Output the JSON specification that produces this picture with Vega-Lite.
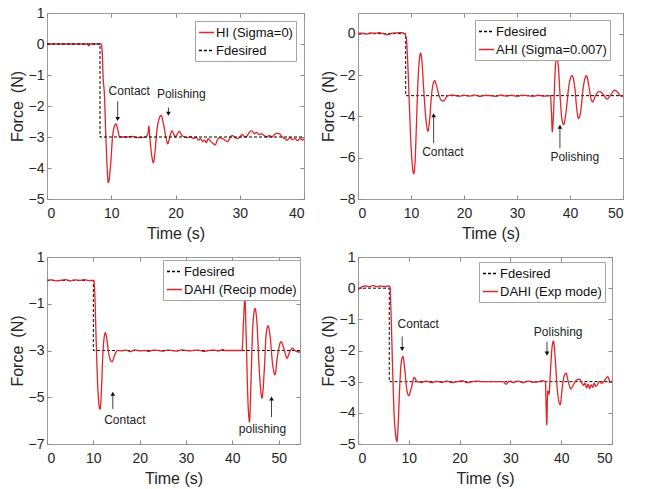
{
  "$schema": "https://vega.github.io/schema/vega-lite/v6.json",
  "background": "white",
  "padding": {"left": 8, "top": 5, "right": 5, "bottom": 5},
  "config": {
    "font": "Liberation Sans",
    "view": {"stroke": "#9b9b9b", "strokeWidth": 1},
    "axis": {"grid": false, "domain": false, "tickSize": -4, "tickColor": "#8a8a8a", "labelFont": "Liberation Sans", "labelFontSize": 14, "labelColor": "#262626", "titleFont": "Liberation Sans", "titleFontSize": 16, "titleFontWeight": "normal", "titleColor": "#262626"},
    "axisX": {"labelPadding": 11, "titlePadding": 5},
    "axisY": {"labelPadding": 7, "titlePadding": 3},
    "legend": {"orient": "none", "title": null, "labelFont": "Liberation Sans", "labelFontSize": 13, "labelColor": "#111111", "symbolType": "stroke", "symbolSize": 225, "symbolStrokeWidth": 1.3, "strokeColor": "#a5a5a5", "fillColor": "white", "padding": 3, "rowPadding": 2, "labelOffset": 1}
  },
  "datasets": {
    "p1": [
      {"t":0,"f":0,"s":"HI (Sigma=0)"},{"t":6.3,"f":0,"s":"HI (Sigma=0)"},{"t":6.5,"f":-0.06,"s":"HI (Sigma=0)"},{"t":6.7,"f":0,"s":"HI (Sigma=0)"},{"t":8.45,"f":0,"s":"HI (Sigma=0)"},{"t":8.6,"f":-0.3,"s":"HI (Sigma=0)"},{"t":8.75,"f":-1.15,"s":"HI (Sigma=0)"},{"t":8.9,"f":-1.5,"s":"HI (Sigma=0)"},{"t":9.2,"f":-3.2,"s":"HI (Sigma=0)"},{"t":9.55,"f":-4.47,"s":"HI (Sigma=0)"},{"t":9.9,"f":-3.9,"s":"HI (Sigma=0)"},{"t":10.2,"f":-3.0,"s":"HI (Sigma=0)"},{"t":10.5,"f":-2.65,"s":"HI (Sigma=0)"},{"t":10.75,"f":-2.58,"s":"HI (Sigma=0)"},{"t":11.0,"f":-2.75,"s":"HI (Sigma=0)"},{"t":11.3,"f":-3.0,"s":"HI (Sigma=0)"},{"t":12.5,"f":-3.0,"s":"HI (Sigma=0)"},{"t":13.2,"f":-2.98,"s":"HI (Sigma=0)"},{"t":14.0,"f":-3.02,"s":"HI (Sigma=0)"},{"t":15.3,"f":-3.0,"s":"HI (Sigma=0)"},{"t":15.7,"f":-2.9,"s":"HI (Sigma=0)"},{"t":15.85,"f":-2.65,"s":"HI (Sigma=0)"},{"t":16.0,"f":-3.0,"s":"HI (Sigma=0)"},{"t":16.3,"f":-3.6,"s":"HI (Sigma=0)"},{"t":16.55,"f":-3.83,"s":"HI (Sigma=0)"},{"t":16.8,"f":-3.5,"s":"HI (Sigma=0)"},{"t":17.1,"f":-2.8,"s":"HI (Sigma=0)"},{"t":17.4,"f":-2.45,"s":"HI (Sigma=0)"},{"t":17.75,"f":-2.3,"s":"HI (Sigma=0)"},{"t":18.1,"f":-2.55,"s":"HI (Sigma=0)"},{"t":18.5,"f":-3.0,"s":"HI (Sigma=0)"},{"t":18.8,"f":-3.22,"s":"HI (Sigma=0)"},{"t":19.1,"f":-3.0,"s":"HI (Sigma=0)"},{"t":19.45,"f":-2.8,"s":"HI (Sigma=0)"},{"t":19.7,"f":-2.9,"s":"HI (Sigma=0)"},{"t":19.95,"f":-3.0,"s":"HI (Sigma=0)"},{"t":20.3,"f":-2.9,"s":"HI (Sigma=0)"},{"t":20.6,"f":-2.82,"s":"HI (Sigma=0)"},{"t":21.0,"f":-2.95,"s":"HI (Sigma=0)"},{"t":21.4,"f":-3.0,"s":"HI (Sigma=0)"},{"t":21.9,"f":-3.02,"s":"HI (Sigma=0)"},{"t":22.3,"f":-2.98,"s":"HI (Sigma=0)"},{"t":22.8,"f":-3.05,"s":"HI (Sigma=0)"},{"t":23.2,"f":-3.0,"s":"HI (Sigma=0)"},{"t":23.6,"f":-3.1,"s":"HI (Sigma=0)"},{"t":23.9,"f":-3.05,"s":"HI (Sigma=0)"},{"t":24.2,"f":-3.15,"s":"HI (Sigma=0)"},{"t":24.5,"f":-3.1,"s":"HI (Sigma=0)"},{"t":24.8,"f":-3.18,"s":"HI (Sigma=0)"},{"t":25.1,"f":-3.05,"s":"HI (Sigma=0)"},{"t":25.4,"f":-3.12,"s":"HI (Sigma=0)"},{"t":25.8,"f":-3.2,"s":"HI (Sigma=0)"},{"t":26.2,"f":-3.25,"s":"HI (Sigma=0)"},{"t":26.5,"f":-3.1,"s":"HI (Sigma=0)"},{"t":26.9,"f":-3.02,"s":"HI (Sigma=0)"},{"t":27.3,"f":-3.05,"s":"HI (Sigma=0)"},{"t":27.7,"f":-3.1,"s":"HI (Sigma=0)"},{"t":28.1,"f":-3.15,"s":"HI (Sigma=0)"},{"t":28.4,"f":-3.05,"s":"HI (Sigma=0)"},{"t":28.8,"f":-2.95,"s":"HI (Sigma=0)"},{"t":29.2,"f":-3.0,"s":"HI (Sigma=0)"},{"t":29.6,"f":-3.05,"s":"HI (Sigma=0)"},{"t":30.0,"f":-3.0,"s":"HI (Sigma=0)"},{"t":30.4,"f":-2.92,"s":"HI (Sigma=0)"},{"t":30.8,"f":-3.0,"s":"HI (Sigma=0)"},{"t":31.2,"f":-2.95,"s":"HI (Sigma=0)"},{"t":31.5,"f":-2.85,"s":"HI (Sigma=0)"},{"t":31.9,"f":-2.8,"s":"HI (Sigma=0)"},{"t":32.3,"f":-2.9,"s":"HI (Sigma=0)"},{"t":32.6,"f":-2.85,"s":"HI (Sigma=0)"},{"t":33.0,"f":-2.92,"s":"HI (Sigma=0)"},{"t":33.4,"f":-2.9,"s":"HI (Sigma=0)"},{"t":33.8,"f":-2.95,"s":"HI (Sigma=0)"},{"t":34.2,"f":-3.0,"s":"HI (Sigma=0)"},{"t":34.6,"f":-2.95,"s":"HI (Sigma=0)"},{"t":35.0,"f":-3.0,"s":"HI (Sigma=0)"},{"t":35.4,"f":-2.92,"s":"HI (Sigma=0)"},{"t":35.8,"f":-2.88,"s":"HI (Sigma=0)"},{"t":36.2,"f":-2.9,"s":"HI (Sigma=0)"},{"t":36.6,"f":-3.0,"s":"HI (Sigma=0)"},{"t":37.0,"f":-3.05,"s":"HI (Sigma=0)"},{"t":37.4,"f":-3.1,"s":"HI (Sigma=0)"},{"t":37.8,"f":-3.02,"s":"HI (Sigma=0)"},{"t":38.2,"f":-3.08,"s":"HI (Sigma=0)"},{"t":38.6,"f":-3.05,"s":"HI (Sigma=0)"},{"t":39.0,"f":-3.12,"s":"HI (Sigma=0)"},{"t":39.4,"f":-3.05,"s":"HI (Sigma=0)"},{"t":39.8,"f":-3.1,"s":"HI (Sigma=0)"},{"t":40,"f":-3.05,"s":"HI (Sigma=0)"}
    ],
    "d1": [{"t":0,"f":0,"s":"Fdesired"},{"t":8.25,"f":0,"s":"Fdesired"},{"t":8.25,"f":-3,"s":"Fdesired"},{"t":40,"f":-3,"s":"Fdesired"}],
    "a1": [{"t":11.0,"f1":-1.85,"f2":-2.42,"dir":"down"},{"t":18.9,"f1":-2.05,"f2":-2.25,"dir":"down"}],
    "l1": [{"t":12.8,"f":-1.5,"label":"Contact"},{"t":20.9,"f":-1.6,"label":"Polishing"}],
    "p2": [
      {"t":0,"f":0,"s":"AHI (Sigma=0.007)"},{"t":0.8,"f":0.03,"s":"AHI (Sigma=0.007)"},{"t":1.6,"f":-0.02,"s":"AHI (Sigma=0.007)"},{"t":2.4,"f":0.04,"s":"AHI (Sigma=0.007)"},{"t":3.2,"f":0.02,"s":"AHI (Sigma=0.007)"},{"t":4.0,"f":0.05,"s":"AHI (Sigma=0.007)"},{"t":4.8,"f":0.0,"s":"AHI (Sigma=0.007)"},{"t":5.6,"f":-0.05,"s":"AHI (Sigma=0.007)"},{"t":6.4,"f":0.02,"s":"AHI (Sigma=0.007)"},{"t":7.2,"f":0.04,"s":"AHI (Sigma=0.007)"},{"t":8.0,"f":0.05,"s":"AHI (Sigma=0.007)"},{"t":8.7,"f":0.02,"s":"AHI (Sigma=0.007)"},{"t":9.1,"f":-0.2,"s":"AHI (Sigma=0.007)"},{"t":9.4,"f":-1.5,"s":"AHI (Sigma=0.007)"},{"t":9.7,"f":-3.5,"s":"AHI (Sigma=0.007)"},{"t":10.0,"f":-5.4,"s":"AHI (Sigma=0.007)"},{"t":10.3,"f":-6.5,"s":"AHI (Sigma=0.007)"},{"t":10.5,"f":-6.78,"s":"AHI (Sigma=0.007)"},{"t":10.75,"f":-6.3,"s":"AHI (Sigma=0.007)"},{"t":11.0,"f":-4.6,"s":"AHI (Sigma=0.007)"},{"t":11.3,"f":-2.4,"s":"AHI (Sigma=0.007)"},{"t":11.6,"f":-1.2,"s":"AHI (Sigma=0.007)"},{"t":11.8,"f":-0.94,"s":"AHI (Sigma=0.007)"},{"t":12.05,"f":-1.3,"s":"AHI (Sigma=0.007)"},{"t":12.4,"f":-2.7,"s":"AHI (Sigma=0.007)"},{"t":12.8,"f":-4.1,"s":"AHI (Sigma=0.007)"},{"t":13.2,"f":-4.72,"s":"AHI (Sigma=0.007)"},{"t":13.5,"f":-4.2,"s":"AHI (Sigma=0.007)"},{"t":13.9,"f":-2.9,"s":"AHI (Sigma=0.007)"},{"t":14.2,"f":-2.4,"s":"AHI (Sigma=0.007)"},{"t":14.46,"f":-2.27,"s":"AHI (Sigma=0.007)"},{"t":14.8,"f":-2.5,"s":"AHI (Sigma=0.007)"},{"t":15.3,"f":-3.0,"s":"AHI (Sigma=0.007)"},{"t":15.7,"f":-3.22,"s":"AHI (Sigma=0.007)"},{"t":16.16,"f":-3.26,"s":"AHI (Sigma=0.007)"},{"t":16.6,"f":-3.1,"s":"AHI (Sigma=0.007)"},{"t":17.0,"f":-3.0,"s":"AHI (Sigma=0.007)"},{"t":18,"f":-2.97,"s":"AHI (Sigma=0.007)"},{"t":19,"f":-3.03,"s":"AHI (Sigma=0.007)"},{"t":20,"f":-2.98,"s":"AHI (Sigma=0.007)"},{"t":21,"f":-3.02,"s":"AHI (Sigma=0.007)"},{"t":22,"f":-2.97,"s":"AHI (Sigma=0.007)"},{"t":23,"f":-3.03,"s":"AHI (Sigma=0.007)"},{"t":24,"f":-2.98,"s":"AHI (Sigma=0.007)"},{"t":25,"f":-3.0,"s":"AHI (Sigma=0.007)"},{"t":26,"f":-3.03,"s":"AHI (Sigma=0.007)"},{"t":27,"f":-2.97,"s":"AHI (Sigma=0.007)"},{"t":28,"f":-3.02,"s":"AHI (Sigma=0.007)"},{"t":29,"f":-2.98,"s":"AHI (Sigma=0.007)"},{"t":30,"f":-3.03,"s":"AHI (Sigma=0.007)"},{"t":31,"f":-2.98,"s":"AHI (Sigma=0.007)"},{"t":32,"f":-3.0,"s":"AHI (Sigma=0.007)"},{"t":33,"f":-3.03,"s":"AHI (Sigma=0.007)"},{"t":34,"f":-2.98,"s":"AHI (Sigma=0.007)"},{"t":35,"f":-3.02,"s":"AHI (Sigma=0.007)"},{"t":36.3,"f":-3.0,"s":"AHI (Sigma=0.007)"},{"t":36.5,"f":-3.8,"s":"AHI (Sigma=0.007)"},{"t":36.66,"f":-4.75,"s":"AHI (Sigma=0.007)"},{"t":36.9,"f":-3.8,"s":"AHI (Sigma=0.007)"},{"t":37.2,"f":-1.8,"s":"AHI (Sigma=0.007)"},{"t":37.5,"f":-1.1,"s":"AHI (Sigma=0.007)"},{"t":37.8,"f":-1.6,"s":"AHI (Sigma=0.007)"},{"t":38.2,"f":-3.3,"s":"AHI (Sigma=0.007)"},{"t":38.5,"f":-4.2,"s":"AHI (Sigma=0.007)"},{"t":38.8,"f":-4.4,"s":"AHI (Sigma=0.007)"},{"t":39.2,"f":-3.9,"s":"AHI (Sigma=0.007)"},{"t":39.8,"f":-2.5,"s":"AHI (Sigma=0.007)"},{"t":40.4,"f":-2.03,"s":"AHI (Sigma=0.007)"},{"t":40.9,"f":-2.6,"s":"AHI (Sigma=0.007)"},{"t":41.3,"f":-3.7,"s":"AHI (Sigma=0.007)"},{"t":41.6,"f":-4.1,"s":"AHI (Sigma=0.007)"},{"t":42.0,"f":-3.8,"s":"AHI (Sigma=0.007)"},{"t":42.5,"f":-2.6,"s":"AHI (Sigma=0.007)"},{"t":43.1,"f":-2.03,"s":"AHI (Sigma=0.007)"},{"t":43.6,"f":-2.6,"s":"AHI (Sigma=0.007)"},{"t":44.0,"f":-3.2,"s":"AHI (Sigma=0.007)"},{"t":44.3,"f":-3.3,"s":"AHI (Sigma=0.007)"},{"t":44.8,"f":-3.0,"s":"AHI (Sigma=0.007)"},{"t":45.6,"f":-2.8,"s":"AHI (Sigma=0.007)"},{"t":46.3,"f":-2.95,"s":"AHI (Sigma=0.007)"},{"t":47.0,"f":-3.16,"s":"AHI (Sigma=0.007)"},{"t":47.7,"f":-2.95,"s":"AHI (Sigma=0.007)"},{"t":48.4,"f":-2.73,"s":"AHI (Sigma=0.007)"},{"t":49.0,"f":-2.85,"s":"AHI (Sigma=0.007)"},{"t":49.5,"f":-3.0,"s":"AHI (Sigma=0.007)"},{"t":50,"f":-3.05,"s":"AHI (Sigma=0.007)"}
    ],
    "d2": [{"t":0,"f":0,"s":"Fdesired"},{"t":9.0,"f":0,"s":"Fdesired"},{"t":9.0,"f":-3,"s":"Fdesired"},{"t":50,"f":-3,"s":"Fdesired"}],
    "a2": [{"t":14.27,"f1":-5.3,"f2":-3.95,"dir":"up"},{"t":38.1,"f1":-5.55,"f2":-4.5,"dir":"up"}],
    "l2": [{"t":16.0,"f":-5.73,"label":"Contact"},{"t":40.9,"f":-5.97,"label":"Polishing"}],
    "p3": [
      {"t":0,"f":0,"s":"DAHI (Recip mode)"},{"t":1,"f":0.02,"s":"DAHI (Recip mode)"},{"t":2,"f":-0.02,"s":"DAHI (Recip mode)"},{"t":3,"f":0.0,"s":"DAHI (Recip mode)"},{"t":4,"f":0.03,"s":"DAHI (Recip mode)"},{"t":5,"f":-0.02,"s":"DAHI (Recip mode)"},{"t":6,"f":0.02,"s":"DAHI (Recip mode)"},{"t":7,"f":0.0,"s":"DAHI (Recip mode)"},{"t":8,"f":0.03,"s":"DAHI (Recip mode)"},{"t":9,"f":-0.01,"s":"DAHI (Recip mode)"},{"t":10.1,"f":0.0,"s":"DAHI (Recip mode)"},{"t":10.3,"f":-0.5,"s":"DAHI (Recip mode)"},{"t":10.6,"f":-2.5,"s":"DAHI (Recip mode)"},{"t":10.9,"f":-4.3,"s":"DAHI (Recip mode)"},{"t":11.2,"f":-5.3,"s":"DAHI (Recip mode)"},{"t":11.46,"f":-5.51,"s":"DAHI (Recip mode)"},{"t":11.7,"f":-4.9,"s":"DAHI (Recip mode)"},{"t":12.0,"f":-3.4,"s":"DAHI (Recip mode)"},{"t":12.3,"f":-2.5,"s":"DAHI (Recip mode)"},{"t":12.6,"f":-2.24,"s":"DAHI (Recip mode)"},{"t":12.9,"f":-2.5,"s":"DAHI (Recip mode)"},{"t":13.3,"f":-3.1,"s":"DAHI (Recip mode)"},{"t":13.7,"f":-3.42,"s":"DAHI (Recip mode)"},{"t":14.04,"f":-3.48,"s":"DAHI (Recip mode)"},{"t":14.5,"f":-3.25,"s":"DAHI (Recip mode)"},{"t":15.2,"f":-3.0,"s":"DAHI (Recip mode)"},{"t":16,"f":-3.02,"s":"DAHI (Recip mode)"},{"t":17,"f":-2.98,"s":"DAHI (Recip mode)"},{"t":18,"f":-3.05,"s":"DAHI (Recip mode)"},{"t":19,"f":-2.97,"s":"DAHI (Recip mode)"},{"t":20,"f":-3.02,"s":"DAHI (Recip mode)"},{"t":21,"f":-3.0,"s":"DAHI (Recip mode)"},{"t":22,"f":-3.04,"s":"DAHI (Recip mode)"},{"t":23,"f":-2.98,"s":"DAHI (Recip mode)"},{"t":24,"f":-3.0,"s":"DAHI (Recip mode)"},{"t":25,"f":-3.03,"s":"DAHI (Recip mode)"},{"t":26,"f":-2.98,"s":"DAHI (Recip mode)"},{"t":27,"f":-3.0,"s":"DAHI (Recip mode)"},{"t":28,"f":-3.03,"s":"DAHI (Recip mode)"},{"t":29,"f":-2.97,"s":"DAHI (Recip mode)"},{"t":30,"f":-3.0,"s":"DAHI (Recip mode)"},{"t":31,"f":-3.02,"s":"DAHI (Recip mode)"},{"t":32,"f":-2.98,"s":"DAHI (Recip mode)"},{"t":33,"f":-3.0,"s":"DAHI (Recip mode)"},{"t":34,"f":-3.04,"s":"DAHI (Recip mode)"},{"t":35,"f":-3.0,"s":"DAHI (Recip mode)"},{"t":36,"f":-2.98,"s":"DAHI (Recip mode)"},{"t":37,"f":-3.02,"s":"DAHI (Recip mode)"},{"t":38,"f":-2.95,"s":"DAHI (Recip mode)"},{"t":38.3,"f":-3.0,"s":"DAHI (Recip mode)"},{"t":39,"f":-3.0,"s":"DAHI (Recip mode)"},{"t":40,"f":-3.0,"s":"DAHI (Recip mode)"},{"t":41,"f":-3.0,"s":"DAHI (Recip mode)"},{"t":42.1,"f":-3.0,"s":"DAHI (Recip mode)"},{"t":42.4,"f":-1.8,"s":"DAHI (Recip mode)"},{"t":42.7,"f":-0.78,"s":"DAHI (Recip mode)"},{"t":43.0,"f":-2.5,"s":"DAHI (Recip mode)"},{"t":43.3,"f":-4.8,"s":"DAHI (Recip mode)"},{"t":43.7,"f":-6.05,"s":"DAHI (Recip mode)"},{"t":44.0,"f":-4.5,"s":"DAHI (Recip mode)"},{"t":44.4,"f":-2.0,"s":"DAHI (Recip mode)"},{"t":44.9,"f":-1.2,"s":"DAHI (Recip mode)"},{"t":45.3,"f":-1.8,"s":"DAHI (Recip mode)"},{"t":45.8,"f":-3.8,"s":"DAHI (Recip mode)"},{"t":46.4,"f":-5.04,"s":"DAHI (Recip mode)"},{"t":46.9,"f":-3.8,"s":"DAHI (Recip mode)"},{"t":47.3,"f":-2.3,"s":"DAHI (Recip mode)"},{"t":47.7,"f":-1.95,"s":"DAHI (Recip mode)"},{"t":48.1,"f":-2.3,"s":"DAHI (Recip mode)"},{"t":48.7,"f":-3.6,"s":"DAHI (Recip mode)"},{"t":49.2,"f":-4.04,"s":"DAHI (Recip mode)"},{"t":49.7,"f":-3.3,"s":"DAHI (Recip mode)"},{"t":50.5,"f":-2.62,"s":"DAHI (Recip mode)"},{"t":51.1,"f":-2.9,"s":"DAHI (Recip mode)"},{"t":51.8,"f":-3.33,"s":"DAHI (Recip mode)"},{"t":52.3,"f":-3.1,"s":"DAHI (Recip mode)"},{"t":52.9,"f":-2.9,"s":"DAHI (Recip mode)"},{"t":53.5,"f":-3.0,"s":"DAHI (Recip mode)"},{"t":54.0,"f":-3.05,"s":"DAHI (Recip mode)"},{"t":54.6,"f":-3.08,"s":"DAHI (Recip mode)"}
    ],
    "d3": [{"t":0,"f":0,"s":"Fdesired"},{"t":10.0,"f":0,"s":"Fdesired"},{"t":10.0,"f":-3,"s":"Fdesired"},{"t":54.6,"f":-3,"s":"Fdesired"}],
    "a3": [{"t":14.2,"f1":-5.5,"f2":-4.85,"dir":"up"},{"t":48.45,"f1":-5.85,"f2":-5.05,"dir":"up"}],
    "l3": [{"t":16.8,"f":-5.96,"label":"Contact"},{"t":46.5,"f":-6.36,"label":"polishing"}],
    "p4": [
      {"t":0,"f":-0.05,"s":"DAHI (Exp mode)"},{"t":0.4,"f":0.0,"s":"DAHI (Exp mode)"},{"t":0.8,"f":0.05,"s":"DAHI (Exp mode)"},{"t":1.5,"f":0.07,"s":"DAHI (Exp mode)"},{"t":2.2,"f":0.05,"s":"DAHI (Exp mode)"},{"t":3.0,"f":0.08,"s":"DAHI (Exp mode)"},{"t":3.8,"f":0.05,"s":"DAHI (Exp mode)"},{"t":4.5,"f":0.07,"s":"DAHI (Exp mode)"},{"t":5.3,"f":0.05,"s":"DAHI (Exp mode)"},{"t":6.0,"f":0.07,"s":"DAHI (Exp mode)"},{"t":6.3,"f":0.05,"s":"DAHI (Exp mode)"},{"t":6.5,"f":-0.8,"s":"DAHI (Exp mode)"},{"t":6.8,"f":-2.5,"s":"DAHI (Exp mode)"},{"t":7.1,"f":-4.0,"s":"DAHI (Exp mode)"},{"t":7.4,"f":-4.7,"s":"DAHI (Exp mode)"},{"t":7.66,"f":-4.92,"s":"DAHI (Exp mode)"},{"t":7.9,"f":-4.4,"s":"DAHI (Exp mode)"},{"t":8.2,"f":-3.2,"s":"DAHI (Exp mode)"},{"t":8.5,"f":-2.4,"s":"DAHI (Exp mode)"},{"t":8.85,"f":-2.19,"s":"DAHI (Exp mode)"},{"t":9.2,"f":-2.6,"s":"DAHI (Exp mode)"},{"t":9.6,"f":-3.25,"s":"DAHI (Exp mode)"},{"t":10.0,"f":-3.45,"s":"DAHI (Exp mode)"},{"t":10.5,"f":-3.2,"s":"DAHI (Exp mode)"},{"t":11.1,"f":-2.86,"s":"DAHI (Exp mode)"},{"t":11.6,"f":-3.0,"s":"DAHI (Exp mode)"},{"t":12.5,"f":-3.02,"s":"DAHI (Exp mode)"},{"t":13.5,"f":-2.98,"s":"DAHI (Exp mode)"},{"t":14.5,"f":-3.03,"s":"DAHI (Exp mode)"},{"t":15.5,"f":-2.99,"s":"DAHI (Exp mode)"},{"t":16.5,"f":-3.02,"s":"DAHI (Exp mode)"},{"t":17.5,"f":-2.98,"s":"DAHI (Exp mode)"},{"t":18.5,"f":-3.03,"s":"DAHI (Exp mode)"},{"t":19.5,"f":-3.0,"s":"DAHI (Exp mode)"},{"t":20.5,"f":-2.97,"s":"DAHI (Exp mode)"},{"t":21.5,"f":-3.03,"s":"DAHI (Exp mode)"},{"t":22.5,"f":-3.0,"s":"DAHI (Exp mode)"},{"t":23.5,"f":-2.98,"s":"DAHI (Exp mode)"},{"t":24.5,"f":-3.0,"s":"DAHI (Exp mode)"},{"t":25.5,"f":-3.0,"s":"DAHI (Exp mode)"},{"t":26.5,"f":-3.0,"s":"DAHI (Exp mode)"},{"t":27.5,"f":-3.0,"s":"DAHI (Exp mode)"},{"t":28.5,"f":-3.0,"s":"DAHI (Exp mode)"},{"t":29.2,"f":-3.08,"s":"DAHI (Exp mode)"},{"t":29.8,"f":-2.98,"s":"DAHI (Exp mode)"},{"t":30.5,"f":-3.03,"s":"DAHI (Exp mode)"},{"t":31.5,"f":-2.98,"s":"DAHI (Exp mode)"},{"t":32.5,"f":-3.03,"s":"DAHI (Exp mode)"},{"t":33.5,"f":-2.98,"s":"DAHI (Exp mode)"},{"t":34.5,"f":-3.02,"s":"DAHI (Exp mode)"},{"t":35.5,"f":-3.0,"s":"DAHI (Exp mode)"},{"t":36.3,"f":-2.97,"s":"DAHI (Exp mode)"},{"t":36.9,"f":-3.0,"s":"DAHI (Exp mode)"},{"t":37.0,"f":-3.6,"s":"DAHI (Exp mode)"},{"t":37.16,"f":-4.38,"s":"DAHI (Exp mode)"},{"t":37.35,"f":-3.3,"s":"DAHI (Exp mode)"},{"t":37.6,"f":-3.4,"s":"DAHI (Exp mode)"},{"t":37.9,"f":-2.6,"s":"DAHI (Exp mode)"},{"t":38.2,"f":-1.9,"s":"DAHI (Exp mode)"},{"t":38.46,"f":-1.7,"s":"DAHI (Exp mode)"},{"t":38.8,"f":-2.2,"s":"DAHI (Exp mode)"},{"t":39.2,"f":-3.2,"s":"DAHI (Exp mode)"},{"t":39.5,"f":-3.6,"s":"DAHI (Exp mode)"},{"t":39.8,"f":-3.74,"s":"DAHI (Exp mode)"},{"t":40.2,"f":-3.2,"s":"DAHI (Exp mode)"},{"t":40.6,"f":-2.8,"s":"DAHI (Exp mode)"},{"t":40.96,"f":-2.73,"s":"DAHI (Exp mode)"},{"t":41.4,"f":-3.0,"s":"DAHI (Exp mode)"},{"t":41.9,"f":-3.23,"s":"DAHI (Exp mode)"},{"t":42.4,"f":-3.1,"s":"DAHI (Exp mode)"},{"t":43.0,"f":-2.95,"s":"DAHI (Exp mode)"},{"t":43.6,"f":-2.92,"s":"DAHI (Exp mode)"},{"t":44.1,"f":-3.05,"s":"DAHI (Exp mode)"},{"t":44.4,"f":-3.12,"s":"DAHI (Exp mode)"},{"t":44.7,"f":-3.05,"s":"DAHI (Exp mode)"},{"t":45.0,"f":-3.2,"s":"DAHI (Exp mode)"},{"t":45.3,"f":-3.08,"s":"DAHI (Exp mode)"},{"t":45.6,"f":-3.22,"s":"DAHI (Exp mode)"},{"t":45.9,"f":-3.1,"s":"DAHI (Exp mode)"},{"t":46.2,"f":-3.18,"s":"DAHI (Exp mode)"},{"t":46.5,"f":-3.05,"s":"DAHI (Exp mode)"},{"t":46.8,"f":-3.15,"s":"DAHI (Exp mode)"},{"t":47.1,"f":-3.1,"s":"DAHI (Exp mode)"},{"t":47.5,"f":-3.0,"s":"DAHI (Exp mode)"},{"t":48.0,"f":-3.05,"s":"DAHI (Exp mode)"},{"t":48.6,"f":-2.95,"s":"DAHI (Exp mode)"},{"t":49.15,"f":-2.84,"s":"DAHI (Exp mode)"},{"t":49.6,"f":-3.0,"s":"DAHI (Exp mode)"},{"t":50,"f":-3.02,"s":"DAHI (Exp mode)"}
    ],
    "d4": [{"t":0,"f":0,"s":"Fdesired"},{"t":6.15,"f":0,"s":"Fdesired"},{"t":6.15,"f":-3,"s":"Fdesired"},{"t":50,"f":-3,"s":"Fdesired"}],
    "a4": [{"t":8.7,"f1":-1.55,"f2":-1.95,"dir":"down"},{"t":37.2,"f1":-1.72,"f2":-2.1,"dir":"down"}],
    "l4": [{"t":11.86,"f":-1.16,"label":"Contact"},{"t":39.4,"f":-1.41,"label":"Polishing"}]
  },
  "columns": 2,
  "align": "each",
  "bounds": "flush",
  "spacing": {"row": 58, "column": 54},
  "resolve": {"scale": {"color": "independent", "strokeDash": "independent"}, "legend": {"color": "independent", "strokeDash": "independent"}},
  "concat": [
    {
      "width": 257, "height": 186,
      "resolve": {"axis": {"x": "independent", "y": "independent"}},
      "layer": [
        {
          "encoding": {
            "x": {"field": "t", "type": "quantitative", "scale": {"domain": [0, 40], "nice": false}, "axis": {"values": [0, 10, 20, 30, 40], "title": "Time (s)"}},
            "y": {"field": "f", "type": "quantitative", "scale": {"domain": [-5, 1], "nice": false}, "axis": {"values": [-5, -4, -3, -2, -1, 0, 1], "title": "Force\u2002(N)"}}
          },
          "layer": [
            {"data": {"name": "p1"}, "mark": {"type": "line", "interpolate": "monotone", "strokeWidth": 1.3},
             "encoding": {
               "color": {"field": "s", "type": "nominal", "scale": {"domain": ["HI (Sigma=0)", "Fdesired"], "range": ["#e3242b", "#000000"]}, "legend": {"legendX": 148, "legendY": 8}},
               "strokeDash": {"field": "s", "type": "nominal", "scale": {"domain": ["HI (Sigma=0)", "Fdesired"], "range": [[1, 0], [3, 2]]}, "legend": {"legendX": 148, "legendY": 8}}
             }},
            {"data": {"name": "d1"}, "mark": {"type": "line", "strokeWidth": 1},
             "encoding": {
               "color": {"field": "s", "type": "nominal", "scale": {"domain": ["HI (Sigma=0)", "Fdesired"], "range": ["#e3242b", "#000000"]}, "legend": {"legendX": 148, "legendY": 8}},
               "strokeDash": {"field": "s", "type": "nominal", "scale": {"domain": ["HI (Sigma=0)", "Fdesired"], "range": [[1, 0], [3, 2]]}, "legend": {"legendX": 148, "legendY": 8}}
             }},
            {"data": {"name": "a1"}, "mark": {"type": "rule", "color": "#111111", "strokeWidth": 0.8}, "encoding": {"y": {"field": "f1", "type": "quantitative"}, "y2": {"field": "f2"}}},
            {"data": {"name": "a1"}, "mark": {"type": "point", "filled": true, "color": "#111111", "size": 22, "opacity": 1}, "encoding": {"y": {"field": "f2", "type": "quantitative"}, "shape": {"field": "dir", "type": "nominal", "scale": {"domain": ["down", "up"], "range": ["triangle-down", "triangle-up"]}, "legend": null}}},
            {"data": {"name": "l1"}, "mark": {"type": "text", "font": "Liberation Sans", "fontSize": 12, "color": "#222222"}, "encoding": {"text": {"field": "label"}}}
          ]
        },
        {"data": {"name": "d1"}, "mark": {"type": "point", "opacity": 0},
         "encoding": {
           "x": {"field": "t", "type": "quantitative", "axis": {"orient": "top", "values": [0, 10, 20, 30, 40], "labels": false, "title": null}},
           "y": {"field": "f", "type": "quantitative", "axis": {"orient": "right", "values": [-5, -4, -3, -2, -1, 0, 1], "labels": false, "title": null}}
         }}
      ]
    },
    {
      "width": 265, "height": 186,
      "resolve": {"axis": {"x": "independent", "y": "independent"}},
      "layer": [
        {
          "encoding": {
            "x": {"field": "t", "type": "quantitative", "scale": {"domain": [0, 50], "nice": false}, "axis": {"values": [0, 10, 20, 30, 40, 50], "title": "Time (s)"}},
            "y": {"field": "f", "type": "quantitative", "scale": {"domain": [-8, 1], "nice": false}, "axis": {"values": [-8, -6, -4, -2, 0], "title": "Force\u2002(N)"}}
          },
          "layer": [
            {"data": {"name": "d2"}, "mark": {"type": "line", "strokeWidth": 1},
             "encoding": {
               "color": {"field": "s", "type": "nominal", "scale": {"domain": ["Fdesired", "AHI (Sigma=0.007)"], "range": ["#000000", "#e3242b"]}, "legend": {"legendX": 117, "legendY": 7}},
               "strokeDash": {"field": "s", "type": "nominal", "scale": {"domain": ["Fdesired", "AHI (Sigma=0.007)"], "range": [[3, 2], [1, 0]]}, "legend": {"legendX": 117, "legendY": 7}}
             }},
            {"data": {"name": "p2"}, "mark": {"type": "line", "interpolate": "monotone", "strokeWidth": 1.3},
             "encoding": {
               "color": {"field": "s", "type": "nominal", "scale": {"domain": ["Fdesired", "AHI (Sigma=0.007)"], "range": ["#000000", "#e3242b"]}, "legend": {"legendX": 117, "legendY": 7}},
               "strokeDash": {"field": "s", "type": "nominal", "scale": {"domain": ["Fdesired", "AHI (Sigma=0.007)"], "range": [[3, 2], [1, 0]]}, "legend": {"legendX": 117, "legendY": 7}}
             }},
            {"data": {"name": "a2"}, "mark": {"type": "rule", "color": "#111111", "strokeWidth": 0.8}, "encoding": {"y": {"field": "f1", "type": "quantitative"}, "y2": {"field": "f2"}}},
            {"data": {"name": "a2"}, "mark": {"type": "point", "filled": true, "color": "#111111", "size": 22, "opacity": 1}, "encoding": {"y": {"field": "f2", "type": "quantitative"}, "shape": {"field": "dir", "type": "nominal", "scale": {"domain": ["down", "up"], "range": ["triangle-down", "triangle-up"]}, "legend": null}}},
            {"data": {"name": "l2"}, "mark": {"type": "text", "font": "Liberation Sans", "fontSize": 12, "color": "#222222"}, "encoding": {"text": {"field": "label"}}}
          ]
        },
        {"data": {"name": "d2"}, "mark": {"type": "point", "opacity": 0},
         "encoding": {
           "x": {"field": "t", "type": "quantitative", "axis": {"orient": "top", "values": [0, 10, 20, 30, 40, 50], "labels": false, "title": null}},
           "y": {"field": "f", "type": "quantitative", "axis": {"orient": "right", "values": [-8, -6, -4, -2, 0], "labels": false, "title": null}}
         }}
      ]
    },
    {
      "width": 253, "height": 187,
      "resolve": {"axis": {"x": "independent", "y": "independent"}},
      "layer": [
        {
          "encoding": {
            "x": {"field": "t", "type": "quantitative", "scale": {"domain": [0, 54.6], "nice": false}, "axis": {"values": [0, 10, 20, 30, 40, 50], "title": "Time (s)"}},
            "y": {"field": "f", "type": "quantitative", "scale": {"domain": [-7, 1], "nice": false}, "axis": {"values": [-7, -5, -3, -1, 1], "title": "Force\u2002(N)"}}
          },
          "layer": [
            {"data": {"name": "d3"}, "mark": {"type": "line", "strokeWidth": 1},
             "encoding": {
               "color": {"field": "s", "type": "nominal", "scale": {"domain": ["Fdesired", "DAHI (Recip mode)"], "range": ["#000000", "#e3242b"]}, "legend": {"legendX": 116, "legendY": 3}},
               "strokeDash": {"field": "s", "type": "nominal", "scale": {"domain": ["Fdesired", "DAHI (Recip mode)"], "range": [[3, 2], [1, 0]]}, "legend": {"legendX": 116, "legendY": 3}}
             }},
            {"data": {"name": "p3"}, "mark": {"type": "line", "interpolate": "monotone", "strokeWidth": 1.3},
             "encoding": {
               "color": {"field": "s", "type": "nominal", "scale": {"domain": ["Fdesired", "DAHI (Recip mode)"], "range": ["#000000", "#e3242b"]}, "legend": {"legendX": 116, "legendY": 3}},
               "strokeDash": {"field": "s", "type": "nominal", "scale": {"domain": ["Fdesired", "DAHI (Recip mode)"], "range": [[3, 2], [1, 0]]}, "legend": {"legendX": 116, "legendY": 3}}
             }},
            {"data": {"name": "a3"}, "mark": {"type": "rule", "color": "#111111", "strokeWidth": 0.8}, "encoding": {"y": {"field": "f1", "type": "quantitative"}, "y2": {"field": "f2"}}},
            {"data": {"name": "a3"}, "mark": {"type": "point", "filled": true, "color": "#111111", "size": 22, "opacity": 1}, "encoding": {"y": {"field": "f2", "type": "quantitative"}, "shape": {"field": "dir", "type": "nominal", "scale": {"domain": ["down", "up"], "range": ["triangle-down", "triangle-up"]}, "legend": null}}},
            {"data": {"name": "l3"}, "mark": {"type": "text", "font": "Liberation Sans", "fontSize": 12, "color": "#222222"}, "encoding": {"text": {"field": "label"}}}
          ]
        },
        {"data": {"name": "d3"}, "mark": {"type": "point", "opacity": 0},
         "encoding": {
           "x": {"field": "t", "type": "quantitative", "axis": {"orient": "top", "values": [0, 10, 20, 30, 40, 50], "labels": false, "title": null}},
           "y": {"field": "f", "type": "quantitative", "axis": {"orient": "right", "values": [-7, -5, -3, -1, 1], "labels": false, "title": null}}
         }}
      ]
    },
    {
      "width": 254, "height": 187,
      "resolve": {"axis": {"x": "independent", "y": "independent"}},
      "layer": [
        {
          "encoding": {
            "x": {"field": "t", "type": "quantitative", "scale": {"domain": [0, 50], "nice": false}, "axis": {"values": [0, 10, 20, 30, 40, 50], "title": "Time (s)"}},
            "y": {"field": "f", "type": "quantitative", "scale": {"domain": [-5, 1], "nice": false}, "axis": {"values": [-5, -4, -3, -2, -1, 0, 1], "title": "Force\u2002(N)"}}
          },
          "layer": [
            {"data": {"name": "d4"}, "mark": {"type": "line", "strokeWidth": 1},
             "encoding": {
               "color": {"field": "s", "type": "nominal", "scale": {"domain": ["Fdesired", "DAHI (Exp mode)"], "range": ["#000000", "#e3242b"]}, "legend": {"legendX": 121, "legendY": 5}},
               "strokeDash": {"field": "s", "type": "nominal", "scale": {"domain": ["Fdesired", "DAHI (Exp mode)"], "range": [[3, 2], [1, 0]]}, "legend": {"legendX": 121, "legendY": 5}}
             }},
            {"data": {"name": "p4"}, "mark": {"type": "line", "interpolate": "monotone", "strokeWidth": 1.3},
             "encoding": {
               "color": {"field": "s", "type": "nominal", "scale": {"domain": ["Fdesired", "DAHI (Exp mode)"], "range": ["#000000", "#e3242b"]}, "legend": {"legendX": 121, "legendY": 5}},
               "strokeDash": {"field": "s", "type": "nominal", "scale": {"domain": ["Fdesired", "DAHI (Exp mode)"], "range": [[3, 2], [1, 0]]}, "legend": {"legendX": 121, "legendY": 5}}
             }},
            {"data": {"name": "a4"}, "mark": {"type": "rule", "color": "#111111", "strokeWidth": 0.8}, "encoding": {"y": {"field": "f1", "type": "quantitative"}, "y2": {"field": "f2"}}},
            {"data": {"name": "a4"}, "mark": {"type": "point", "filled": true, "color": "#111111", "size": 22, "opacity": 1}, "encoding": {"y": {"field": "f2", "type": "quantitative"}, "shape": {"field": "dir", "type": "nominal", "scale": {"domain": ["down", "up"], "range": ["triangle-down", "triangle-up"]}, "legend": null}}},
            {"data": {"name": "l4"}, "mark": {"type": "text", "font": "Liberation Sans", "fontSize": 12, "color": "#222222"}, "encoding": {"text": {"field": "label"}}}
          ]
        },
        {"data": {"name": "d4"}, "mark": {"type": "point", "opacity": 0},
         "encoding": {
           "x": {"field": "t", "type": "quantitative", "axis": {"orient": "top", "values": [0, 10, 20, 30, 40, 50], "labels": false, "title": null}},
           "y": {"field": "f", "type": "quantitative", "axis": {"orient": "right", "values": [-5, -4, -3, -2, -1, 0, 1], "labels": false, "title": null}}
         }}
      ]
    }
  ]
}
